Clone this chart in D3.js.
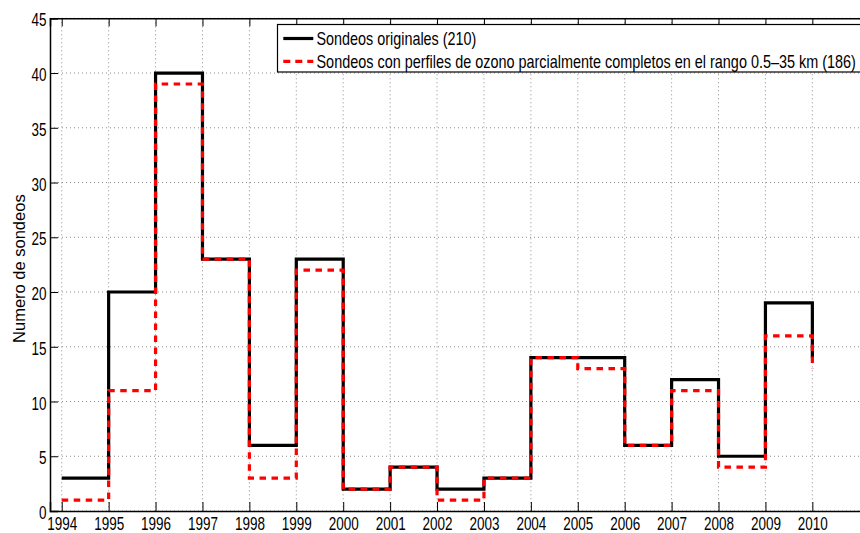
<!DOCTYPE html>
<html>
<head>
<meta charset="utf-8">
<script src="https://cdn.jsdelivr.net/npm/d3@7"></script>
<style>
  html, body { margin: 0; padding: 0; background: #fff; overflow: hidden; }
  svg { display: block; }
  .tick-label { font-family: 'Liberation Sans', Arial, Helvetica, sans-serif; font-size: 18px; fill: #000; }
  .leg-text { font-family: 'Liberation Sans', Arial, Helvetica, sans-serif; font-size: 18px; fill: #000; }
  .ylabel { font-family: 'Liberation Sans', Arial, Helvetica, sans-serif; font-size: 16.5px; fill: #000; }
</style>
</head>
<body>
<svg id="chart" width="860" height="533"></svg>
<script>
// ---- data ----
const years = [1994, 1995, 1996, 1997, 1998, 1999, 2000, 2001, 2002, 2003, 2004, 2005, 2006, 2007, 2008, 2009, 2010];
const originales = [3, 20, 40, 23, 6, 23, 2, 4, 2, 3, 14, 14, 6, 12, 5, 19, 14];
const completos = [1, 11, 39, 23, 3, 22, 2, 4, 1, 3, 14, 13, 6, 11, 4, 16, 13];
const xTicks = [1994, 1995, 1996, 1997, 1998, 1999, 2000, 2001, 2002, 2003, 2004, 2005, 2006, 2007, 2008, 2009, 2010];
const yTicks = [0, 5, 10, 15, 20, 25, 30, 35, 40, 45];
const legendLabels = ["Sondeos originales (210)", "Sondeos con perfiles de ozono parcialmente completos en el rango 0.5\u201335 km (186)"];
const yLabel = "Numero de sondeos";

// ---- layout ----
const svg = d3.select("#chart");
const pL = 50, pR = 871, pT = 18.3, pB = 511;
const squeeze = 0.75;

const x = d3.scaleLinear().domain([1993.75, 2011.25]).range([pL, pR]);
const y = d3.scaleLinear().domain([0, 45]).range([pB, pT]);

// grid
const grid = svg.append("g");
grid.selectAll("line.vg").data(xTicks).enter().append("line")
  .attr("x1", d => x(d)).attr("x2", d => x(d))
  .attr("y1", pT).attr("y2", pB)
  .attr("stroke", "#8c8c8c").attr("stroke-width", 1).attr("stroke-dasharray", "1,3");
grid.selectAll("line.hg").data(yTicks).enter().append("line")
  .attr("x1", pL).attr("x2", pR)
  .attr("y1", d => y(d)).attr("y2", d => y(d))
  .attr("stroke", "#8c8c8c").attr("stroke-width", 1).attr("stroke-dasharray", "1,3");

// stairs paths
function stairs(vals) {
  let p = "M" + x(years[0]) + "," + y(vals[0]);
  for (let i = 1; i < years.length; i++) {
    p += "H" + x(years[i]) + "V" + y(vals[i]);
  }
  return p;
}
svg.append("path").attr("d", stairs(originales))
  .attr("fill", "none").attr("stroke", "#000").attr("stroke-width", 3.2)
  .attr("stroke-linejoin", "miter");
svg.append("path").attr("d", stairs(completos))
  .attr("fill", "none").attr("stroke", "#ff0000").attr("stroke-width", 3.2)
  .attr("stroke-dasharray", "6.5,5.5");

// axes (MATLAB-like, inward ticks)
const axX = d3.axisBottom(x).tickValues(xTicks).tickSize(-9).tickFormat(d3.format("d"));
const gx = svg.append("g").attr("transform", `translate(0,${pB})`).call(axX);
const axXt = d3.axisTop(x).tickValues(xTicks).tickSize(-8).tickFormat("");
svg.append("g").attr("transform", `translate(0,${pT})`).call(axXt);
const axY = d3.axisLeft(y).tickValues(yTicks).tickSize(-8);
const gy = svg.append("g").attr("transform", `translate(${pL},0)`).call(axY);
const axYr = d3.axisRight(y).tickValues(yTicks).tickSize(-8).tickFormat("");
svg.append("g").attr("transform", `translate(${pR},0)`).call(axYr);

svg.selectAll(".domain").attr("stroke", "#000").attr("stroke-width", 1.5);
svg.selectAll(".tick line").attr("stroke", "#000").attr("stroke-width", 1);
svg.selectAll("g").filter(function() { return this.hasAttribute("font-family"); })
  .attr("font-family", null).attr("font-size", null);
gx.selectAll(".tick text").attr("class", "tick-label")
  .attr("x", 0).attr("y", 19.5).attr("dy", 0)
  .attr("transform", `scale(${squeeze},1)`);
gy.selectAll(".tick text").attr("class", "tick-label")
  .attr("x", -3.5 / squeeze).attr("dy", "0.42em")
  .attr("transform", `scale(${squeeze},1)`);

// y label
svg.append("text").attr("class", "ylabel")
  .attr("transform", `translate(25,${(pT + pB) / 2 + 4}) rotate(-90)`)
  .attr("text-anchor", "middle").text(yLabel);

// legend
const lg = svg.append("g");
lg.append("rect").attr("x", 277.5).attr("y", 24.5).attr("width", 590).attr("height", 47.5)
  .attr("fill", "#fff").attr("stroke", "#000").attr("stroke-width", 1.2);
const legStyles = [
  { stroke: "#000", dash: null, len: 160 },
  { stroke: "#ff0000", dash: "7,5", len: 540 }
];
legendLabels.forEach((lab, i) => {
  const cy = 38.5 + i * 22.8;
  lg.append("line").attr("x1", 283.3).attr("x2", 313.3).attr("y1", cy).attr("y2", cy)
    .attr("stroke", legStyles[i].stroke).attr("stroke-width", 3.2)
    .attr("stroke-dasharray", legStyles[i].dash);
  const t = lg.append("text").attr("class", "leg-text").attr("x", 0).attr("y", 0).text(lab);
  const natural = t.node().getComputedTextLength() || legStyles[i].len;
  const s = legStyles[i].len / natural;
  t.attr("transform", `translate(316.5,${cy + 6.2}) scale(${s},1)`);
});
</script>
</body>
</html>
